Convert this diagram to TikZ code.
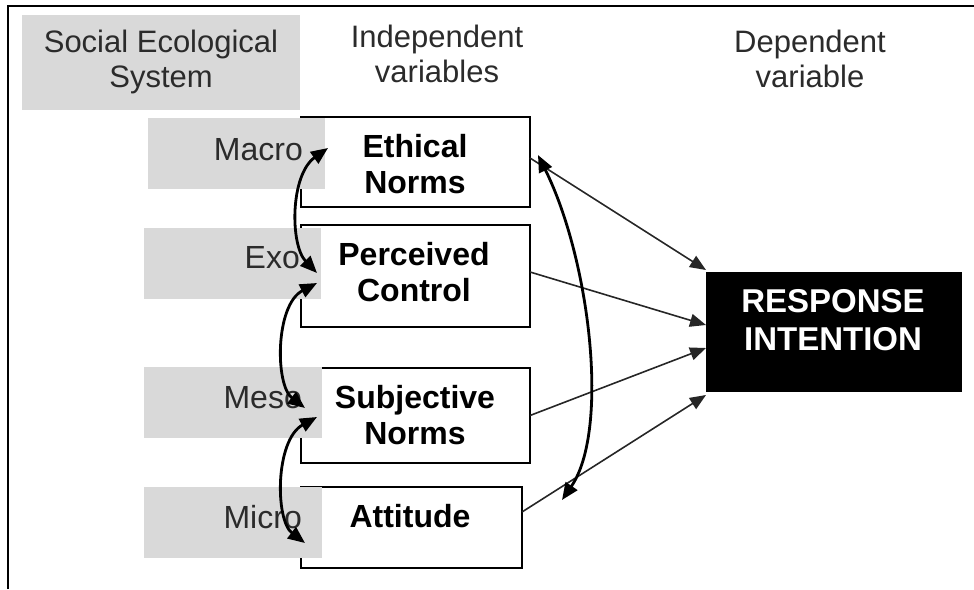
\documentclass[tikz,border=0pt]{standalone}
\usepackage{fontspec}
\setmainfont{Liberation Sans}
\usetikzlibrary{arrows.meta}
\definecolor{levelgray}{HTML}{D9D9D9}
\definecolor{leveltext}{HTML}{2B2B2B}
\begin{document}
\begin{tikzpicture}[x=1pt,y=-1pt,
  headtext/.style={font=\fontsize{31}{35}\selectfont, align=center, anchor=base, text=leveltext},
  levelbox/.style={fill=levelgray, inner sep=0pt, outer sep=0pt},
  leveltxt/.style={font=\fontsize{32}{36}\selectfont, anchor=base east, inner sep=0pt, text=leveltext},
  varbox/.style={draw=black, line width=1.8pt, fill=white, inner sep=0pt, outer sep=0pt},
  vartxt/.style={font=\fontsize{32}{36}\selectfont\bfseries, align=center, anchor=base, inner sep=0pt},
  effect/.style={draw=black!85, line width=1.6pt, -{Triangle[length=16pt,width=13pt]}},
  covary/.style={draw=black, line width=2.8pt, {Triangle[length=17pt,width=14pt]}-{Triangle[length=17pt,width=14pt]}}
]
\useasboundingbox (0,0) rectangle (974,589);

% frame on the top and left sides
\draw[line width=2pt] (8,589) -- (8,6) -- (974,6);

% column headings (anchored at the baseline of their last line)
\node[levelbox, minimum width=278pt, minimum height=95pt] (ses) at (161,62.5) {};
\node[headtext] (sestxt) at (161,87) {Social Ecological\\System};
\node[headtext] (indep) at (437,82) {Independent\\variables};
\node[headtext] (dep) at (810,87) {Dependent\\variable};

% independent variable boxes
\node[varbox, minimum width=229pt, minimum height=90pt] (eth) at (415.5,162) {};
\node[varbox, minimum width=229pt, minimum height=102pt] (pc) at (415.5,276) {};
\node[varbox, minimum width=229pt, minimum height=95pt] (sn) at (415.5,415.5) {};
\node[varbox, minimum width=221pt, minimum height=81pt] (att) at (411.5,527.5) {};

% social ecological levels, laid over the left edge of the boxes
\node[levelbox, minimum width=177pt, minimum height=71pt] (macro) at (236.5,153.5) {};
\node[levelbox, minimum width=177pt, minimum height=71pt] (exo) at (232.5,263.5) {};
\node[levelbox, minimum width=178pt, minimum height=71pt] (meso) at (233,402.5) {};
\node[levelbox, minimum width=178pt, minimum height=71pt] (micro) at (233,522.5) {};
\node[leveltxt] (macrotxt) at (303,160) {Macro};
\node[leveltxt] (exotxt) at (300,268) {Exo};
\node[leveltxt] (mesotxt) at (302,408) {Meso};
\node[leveltxt] (microtxt) at (302,528) {Micro};

% variable labels
\node[vartxt] (ethtxt) at (415,193) {Ethical\\Norms};
\node[vartxt] (pctxt) at (414,301) {Perceived\\Control};
\node[vartxt] (sntxt) at (415,444) {Subjective\\Norms};
\node[vartxt] (atttxt) at (410,527) {Attitude};

% dependent variable
\node[fill=black, minimum width=256pt, minimum height=120pt, inner sep=0pt, outer sep=0pt] (resp) at (834,332) {};
\node[font=\fontsize{33}{38}\selectfont\bfseries, text=white, align=center, anchor=base, inner sep=0pt] (resptxt) at (833,350) {RESPONSE\\INTENTION};

% direct effects on the response intention
\draw[effect] ([yshift=4pt]eth.east) -- ([yshift=2pt]resp.north west);
\draw[effect] ([yshift=4pt]pc.east) -- ([yshift=7pt]resp.west);
\draw[effect] (sn.east) -- ([yshift=-16pt]resp.west);
\draw[effect] ([yshift=15.5pt]att.east) -- ([yshift=-3pt]resp.south west);

% correlations between the independent variables
\coordinate (ethL) at (328,148);
\coordinate (pcLa) at (317,273);
\coordinate (pcLb) at (317,283);
\coordinate (snLa) at (305,408);
\coordinate (snLb) at (317,417);
\coordinate (attL) at (305,543);
\coordinate (ethR) at (538,155);
\coordinate (attR) at (562,500);
\draw[covary] (ethL) .. controls (290,175) and (290,245) .. (pcLa);
\draw[covary] (pcLb) .. controls (275,305) and (275,385) .. (snLa);
\draw[covary] (snLb) .. controls (275,440) and (275,520) .. (attL);
\draw[covary] (ethR) .. controls (590,260) and (610,430) .. (attR);
\end{tikzpicture}
\end{document}
